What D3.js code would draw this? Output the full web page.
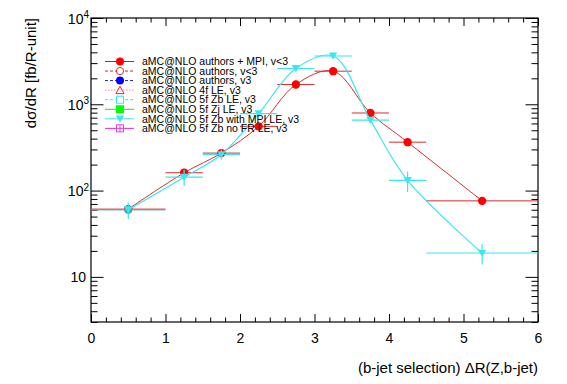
<!DOCTYPE html>
<html><head><meta charset="utf-8">
<script src="https://cdn.jsdelivr.net/npm/d3@7"></script>
<style>
body{margin:0;background:#fff;}
text{font-family:"Liberation Sans",Arial,Helvetica,sans-serif;}
</style></head>
<body><svg id="c" width="567" height="384"></svg>
<script>
// ---- data ----
const binLo   = [0, 1, 1.5, 2, 2.5, 3, 3.5, 4, 4.5];
const binHi   = [1, 1.5, 2, 2.5, 3, 3.5, 4, 4.5, 6];
const binMid  = [0.5, 1.25, 1.75, 2.25, 2.75, 3.25, 3.75, 4.25, 5.25];
const redVals = [61, 161, 272, 555, 1694, 2420, 793, 364, 76];
const cyanVals = [60, 143, 262, 780, 2600, 3630, 656, 131, 18.9];
const cyanErr  = [13, 30, 35, 50, 90, 120, 40, 35, 5];
const greyBin  = [0, 1, 60];   // lo, hi, value of the overlapping other samples in first bin
const xTicks = [0, 1, 2, 3, 4, 5, 6];
const yMajor = [10, 100, 1000, 10000];
const legendLabels = [
  "aMC@NLO authors + MPI, v<3",
  "aMC@NLO authors, v<3",
  "aMC@NLO authors, v3",
  "aMC@NLO 4f LE, v3",
  "aMC@NLO 5f Zb LE, v3",
  "aMC@NLO 5f Zj LE, v3",
  "aMC@NLO 5f Zb with MPI LE, v3",
  "aMC@NLO 5f Zb no FR LE, v3"
];

const RED = "#ff0000", REDL = "#dd2a2a", CYAN = "#3ae6f2";
const svg = d3.select("#c");
const L = 91, R = 538, T = 18, B = 322;
const x = d3.scaleLinear().domain([0, 6]).range([L, R]);
const y = d3.scaleLog().domain([3, 1e4]).range([B, T]);

// ---- axes ----
const minorX = d3.range(0, 6.001, 0.2).filter(v => Math.abs(v - Math.round(v)) > 1e-6);
const minorY = [];
[1, 10, 100, 1000].forEach(d => { for (let k = 2; k <= 9; k++) { const v = k * d; if (v >= 3 && v <= 1e4) minorY.push(v); } });

svg.append("g").attr("transform", `translate(0,${B})`)
  .call(d3.axisBottom(x).tickValues(xTicks).tickSize(-8).tickPadding(11).tickFormat(d3.format("d")))
  .call(g => g.select(".domain").remove())
  .call(g => g.selectAll("text").attr("font-size", 14).attr("fill", "#000").attr("font-family", "Liberation Sans, Arial"));
svg.append("g").attr("transform", `translate(0,${B})`)
  .call(d3.axisBottom(x).tickValues(minorX).tickSize(-4.5).tickFormat(""))
  .call(g => g.select(".domain").remove());
svg.append("g").attr("transform", `translate(0,${T})`)
  .call(d3.axisTop(x).tickValues(xTicks).tickSize(-8).tickFormat(""))
  .call(g => g.select(".domain").remove());
svg.append("g").attr("transform", `translate(0,${T})`)
  .call(d3.axisTop(x).tickValues(minorX).tickSize(-4.5).tickFormat(""))
  .call(g => g.select(".domain").remove());

const yl = svg.append("g").attr("transform", `translate(${L},0)`)
  .call(d3.axisLeft(y).tickValues(yMajor).tickSize(-12.5).tickPadding(4).tickFormat(""))
  .call(g => g.select(".domain").remove());
yl.selectAll(".tick").each(function(d) {
  const t = d3.select(this).append("text").attr("x", -5).attr("dy", "0.36em")
    .attr("text-anchor", "end").attr("fill", "#000").attr("font-size", 14);
  const e = Math.round(Math.log10(d));
  if (e === 1) { t.text("10"); }
  else {
    t.append("tspan").text("10");
    t.append("tspan").attr("font-size", 10).attr("dy", "-0.55em").text(e);
    t.attr("x", -2);
  }
});
svg.append("g").attr("transform", `translate(${L},0)`)
  .call(d3.axisLeft(y).tickValues(minorY).tickSize(-6.5).tickFormat(""))
  .call(g => g.select(".domain").remove());
svg.append("g").attr("transform", `translate(${R},0)`)
  .call(d3.axisRight(y).tickValues(yMajor).tickSize(-12.5).tickFormat(""))
  .call(g => g.select(".domain").remove());
svg.append("g").attr("transform", `translate(${R},0)`)
  .call(d3.axisRight(y).tickValues(minorY).tickSize(-6.5).tickFormat(""))
  .call(g => g.select(".domain").remove());
svg.selectAll(".tick line").attr("stroke", "#000").attr("stroke-width", 1);

svg.append("rect").attr("x", L).attr("y", T).attr("width", R - L).attr("height", B - T)
  .attr("fill", "none").attr("stroke", "#000").attr("stroke-width", 1.2);

// axis titles
svg.append("text").attr("transform", `translate(36,${T}) rotate(-90)`).attr("text-anchor", "end")
  .attr("font-size", 15).attr("fill", "#000").text("dσ/dR [fb/R-unit]");
svg.append("text").attr("x", R).attr("y", 373).attr("text-anchor", "end")
  .attr("font-size", 15).attr("fill", "#000").text("(b-jet selection) ΔR(Z,b-jet)");

// ---- data marks ----
const plot = svg.append("g");
const curve = d3.line().x(d => x(d[0])).y(d => y(d[1])).curve(d3.curveCatmullRom.alpha(0.5));

// red series
plot.selectAll(".rbar").data(binMid.map((m, i) => i)).enter().append("line")
  .attr("x1", i => x(binLo[i])).attr("x2", i => x(binHi[i]))
  .attr("y1", i => y(redVals[i])).attr("y2", i => y(redVals[i]))
  .attr("stroke", REDL).attr("stroke-width", 1);
plot.append("path").datum(binMid.map((m, i) => [m, redVals[i]])).attr("d", curve)
  .attr("fill", "none").attr("stroke", REDL).attr("stroke-width", 1);
plot.selectAll(".rpt").data(binMid.map((m, i) => i)).enter().append("circle")
  .attr("cx", i => x(binMid[i])).attr("cy", i => y(redVals[i])).attr("r", 4.2).attr("fill", RED);

// cyan series
plot.selectAll(".cbar").data(binMid.map((m, i) => i)).enter().append("line")
  .attr("x1", i => x(binLo[i])).attr("x2", i => x(binHi[i]))
  .attr("y1", i => y(cyanVals[i])).attr("y2", i => y(cyanVals[i]))
  .attr("stroke", CYAN).attr("stroke-width", 1.2);
plot.selectAll(".cerr").data(binMid.map((m, i) => i)).enter().append("line")
  .attr("x1", i => x(binMid[i])).attr("x2", i => x(binMid[i]))
  .attr("y1", i => y(cyanVals[i] + cyanErr[i])).attr("y2", i => y(cyanVals[i] - cyanErr[i]))
  .attr("stroke", CYAN).attr("stroke-width", 1.2);
plot.append("path").datum(binMid.map((m, i) => [m, cyanVals[i]])).attr("d", curve)
  .attr("fill", "none").attr("stroke", CYAN).attr("stroke-width", 1.2);

// grey overlapping samples in first bin
plot.append("line").attr("x1", x(greyBin[0])).attr("x2", x(greyBin[1]))
  .attr("y1", y(greyBin[2])).attr("y2", y(greyBin[2])).attr("stroke", "#8a8a8a").attr("stroke-width", 1.2);
plot.append("circle").attr("cx", x((greyBin[0] + greyBin[1]) / 2)).attr("cy", y(greyBin[2])).attr("r", 4)
  .attr("fill", "#4aa9b0");

const triDown = (cx, cy, s) => `M${cx - s},${cy - s * 0.8}L${cx + s},${cy - s * 0.8}L${cx},${cy + s * 0.9}Z`;
plot.selectAll(".cpt").data(binMid.map((m, i) => i)).enter().append("path")
  .attr("d", i => triDown(x(binMid[i]), y(cyanVals[i]), 4.2)).attr("fill", CYAN);

// ---- legend ----
const legStyles = [
  {c: "#e01010", dash: null, m: "circle", fill: RED},
  {c: "#c03030", dash: "3,2", m: "ocircle", fill: "#e03030"},
  {c: "#2020a0", dash: "3,2", m: "circle", fill: "#0000ff"},
  {c: "#ff9090", dash: "1.5,1.5", m: "otri", fill: "#ff2020"},
  {c: CYAN, dash: "3,2", m: "osq", fill: CYAN},
  {c: "#30d030", dash: null, m: "sq", fill: "#00ff00"},
  {c: CYAN, dash: null, m: "tri", fill: CYAN},
  {c: "#e020e0", dash: null, m: "osqp", fill: "#e040e0"}
];
const lg = svg.append("g");
legendLabels.forEach((lab, i) => {
  const cy = 61.5 + i * 9.55, cx = 120;
  const st = legStyles[i];
  lg.append("line").attr("x1", 105).attr("x2", 134).attr("y1", cy).attr("y2", cy)
    .attr("stroke", st.c).attr("stroke-width", 1).attr("stroke-dasharray", st.dash);
  if (st.m === "circle") lg.append("circle").attr("cx", cx).attr("cy", cy).attr("r", 4).attr("fill", st.fill);
  if (st.m === "ocircle") {
    lg.append("circle").attr("cx", cx).attr("cy", cy).attr("r", 3.6).attr("fill", "#fff").attr("stroke", st.fill).attr("stroke-width", 1);
  }
  if (st.m === "otri") lg.append("path").attr("d", `M${cx - 4},${cy + 3.5}L${cx + 4},${cy + 3.5}L${cx},${cy - 4}Z`)
    .attr("fill", "#fff").attr("stroke", st.fill);
  if (st.m === "osq") lg.append("rect").attr("x", cx - 3.5).attr("y", cy - 3.5).attr("width", 7).attr("height", 7)
    .attr("fill", "#fff").attr("stroke", st.fill);
  if (st.m === "sq") lg.append("rect").attr("x", cx - 4).attr("y", cy - 4).attr("width", 8).attr("height", 8).attr("fill", st.fill);
  if (st.m === "tri") lg.append("path").attr("d", triDown(cx, cy, 4.2)).attr("fill", st.fill);
  if (st.m === "osqp") {
    lg.append("rect").attr("x", cx - 3.5).attr("y", cy - 3.5).attr("width", 7).attr("height", 7).attr("fill", "#fff").attr("stroke", st.fill);
    lg.append("path").attr("d", `M${cx - 3.5},${cy}H${cx + 3.5}M${cx},${cy - 3.5}V${cy + 3.5}`).attr("stroke", st.fill);
  }
  lg.append("text").attr("x", 142).attr("y", cy).attr("dy", "0.36em").attr("font-size", 10.5)
    .attr("fill", "#000").text(lab);
});
</script></body></html>
